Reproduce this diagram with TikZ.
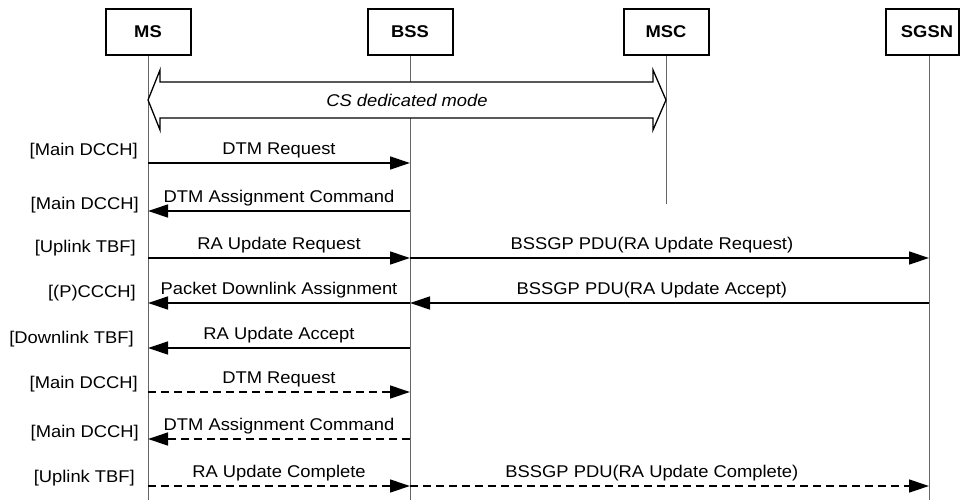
\documentclass[tikz,border=0pt]{standalone}
\usepackage{fontspec}
\setmainfont{Liberation Sans}[FakeStretch=1.08]
\usetikzlibrary{arrows.meta}

\begin{document}
\begin{tikzpicture}[x=1pt, y=-1pt, font=\fontsize{17}{20}\selectfont,
	entity/.style={draw, line width=2pt, minimum width=85pt, minimum height=46pt, inner sep=0pt, font=\fontsize{17}{20}\selectfont\bfseries},
	life/.style={black!60, line width=1pt},
	msg/.style={line width=1.3pt, -{Triangle[length=20pt,width=13pt]}},
	dmsg/.style={msg, dash pattern=on 8pt off 5pt},
	lbl/.style={anchor=base, yshift=9pt, inner sep=0pt},
	chan/.style={anchor=base east, inner sep=0pt}]
	\useasboundingbox (0,0) rectangle (961,500);
	\clip (0,0) rectangle (961,500);
	
	% Entities
	\node[entity] (MS) at (148,32) {MS};
	\node[entity] (BSS) at (410,32) {BSS};
	\node[entity] (MSC) at (666,32) {MSC};
	\node[entity, minimum width=73pt] (SGSN) at (922.5,32) {\hspace*{9pt}SGSN};
	
	% Ends of lifelines
	\coordinate (MSend) at (148,500);
	\coordinate (BSSend) at (410,500);
	\coordinate (MSCend) at (666,204);
	\coordinate (SGSNend) at (929,500);
	
	% Draw lifelines
	\foreach \e in {MS,BSS,MSC,SGSN}
	\draw[life] (\e.south -| \e end) -- (\e end);
	
	% CS dedicated mode
	\draw[line width=1.3pt, fill=white] (148,100) -- (160,70) -- (160,82) -- (653,82) -- (653,70)
		-- (666,100) -- (653,130) -- (653,118) -- (160,118) -- (160,130) -- cycle;
	\node (cs) at (407,100) {\itshape CS dedicated mode};
	
	% Message rows
	\foreach \y [count=\i] in {163,211,258,303,348,392,439,486} {
		\coordinate (ms\i) at (148,\y);
		\coordinate (bss\i) at (410,\y);
		\coordinate (sgsn\i) at (929,\y);
	}
	
	% Channels
	\node[chan] (ch1) at (138,155) {[Main DCCH]};
	\node[chan] (ch2) at (139,209) {[Main DCCH]};
	\node[chan] (ch3) at (136,252) {[Uplink TBF]};
	\node[chan] (ch4) at (136,297) {[(P)CCCH]};
	\node[chan] (ch5) at (134,343) {[Downlink TBF]};
	\node[chan] (ch6) at (138,388) {[Main DCCH]};
	\node[chan] (ch7) at (139,437) {[Main DCCH]};
	\node[chan] (ch8) at (135,482) {[Uplink TBF]};
	
	% Draw messages
	\draw[msg] (ms1) -- node[lbl] {DTM Request} (bss1);
	\draw[msg] (bss2) -- node[lbl] {DTM Assignment Command} (ms2);
	\draw[msg] (ms3) -- node[lbl] {RA Update Request} (bss3);
	\draw[msg] (bss3) -- node[lbl, pos=0.466] {BSSGP PDU(RA Update Request)} (sgsn3);
	\draw[msg] (bss4) -- node[lbl] {Packet Downlink Assignment} (ms4);
	\draw[msg] (sgsn4) -- node[lbl, pos=0.534] {BSSGP PDU(RA Update Accept)} (bss4);
	\draw[msg] (bss5) -- node[lbl] {RA Update Accept} (ms5);
	\draw[dmsg] (ms6) -- node[lbl] {DTM Request} (bss6);
	\draw[dmsg] (bss7) -- node[lbl] {DTM Assignment Command} (ms7);
	\draw[dmsg] (ms8) -- node[lbl] {RA Update Complete} (bss8);
	\draw[dmsg] (bss8) -- node[lbl, pos=0.466] {BSSGP PDU(RA Update Complete)} (sgsn8);
\end{tikzpicture}
\end{document}
